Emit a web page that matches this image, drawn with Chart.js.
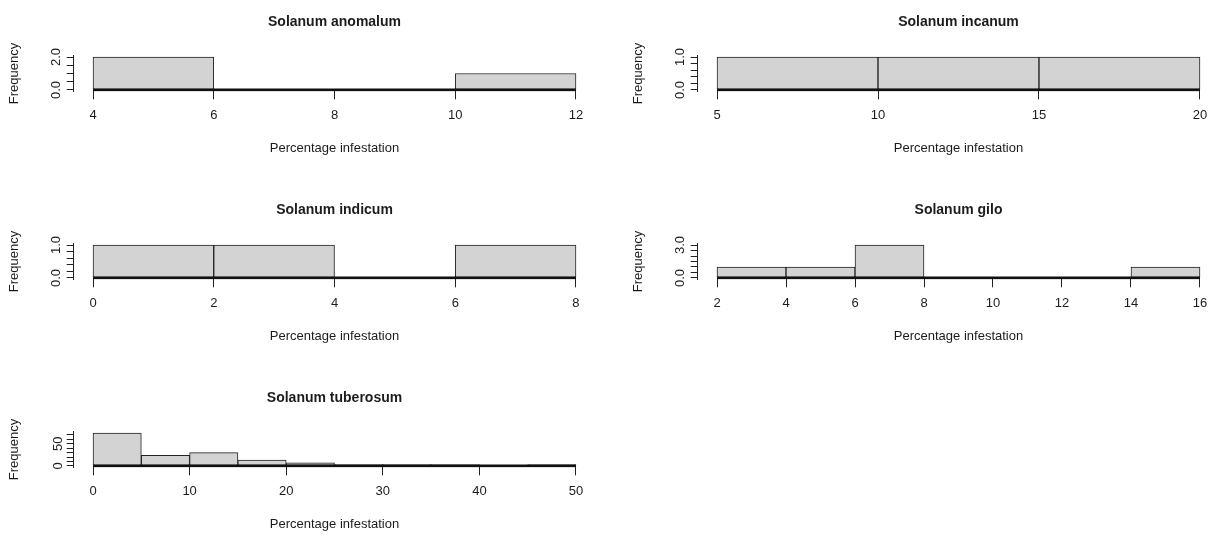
<!DOCTYPE html>
<html>
<head>
<meta charset="utf-8">
<script src="https://cdn.jsdelivr.net/npm/chart.js@4.4.0/dist/chart.umd.min.js"></script>
<style>
html,body{margin:0;padding:0;background:#fff;overflow:hidden;width:1211px;height:536px;}
.panel{position:absolute;width:600px;height:170px;}
</style>
</head>
<body>
<div class="panel" style="left:0px;top:0px"><canvas id="c0" width="600" height="170"></canvas></div>
<div class="panel" style="left:624px;top:0px"><canvas id="c1" width="600" height="170"></canvas></div>
<div class="panel" style="left:0px;top:188px"><canvas id="c2" width="600" height="170"></canvas></div>
<div class="panel" style="left:624px;top:188px"><canvas id="c3" width="600" height="170"></canvas></div>
<div class="panel" style="left:0px;top:376px"><canvas id="c4" width="600" height="170"></canvas></div>
<script>
// ---- data ----
const xAxisTitle = 'Percentage infestation';
const yAxisTitle = 'Frequency';

const anomalumTitle = 'Solanum anomalum';
const anomalumEdges = [4, 6, 8, 10, 12];
const anomalumCounts = [2, 0, 0, 1];
const anomalumXTicks = [4, 6, 8, 10, 12];
const anomalumYTicks = [0, 0.5, 1, 1.5, 2];
const anomalumYLabels = ['0.0', '', '', '', '2.0'];

const incanumTitle = 'Solanum incanum';
const incanumEdges = [5, 10, 15, 20];
const incanumCounts = [1, 1, 1];
const incanumXTicks = [5, 10, 15, 20];
const incanumYTicks = [0, 0.2, 0.4, 0.6, 0.8, 1];
const incanumYLabels = ['0.0', '', '', '', '', '1.0'];

const indicumTitle = 'Solanum indicum';
const indicumEdges = [0, 2, 4, 6, 8];
const indicumCounts = [1, 1, 0, 1];
const indicumXTicks = [0, 2, 4, 6, 8];
const indicumYTicks = [0, 0.2, 0.4, 0.6, 0.8, 1];
const indicumYLabels = ['0.0', '', '', '', '', '1.0'];

const giloTitle = 'Solanum gilo';
const giloEdges = [2, 4, 6, 8, 10, 12, 14, 16];
const giloCounts = [1, 1, 3, 0, 0, 0, 1];
const giloXTicks = [2, 4, 6, 8, 10, 12, 14, 16];
const giloYTicks = [0, 0.5, 1, 1.5, 2, 2.5, 3];
const giloYLabels = ['0.0', '', '', '', '', '', '3.0'];

const tuberosumTitle = 'Solanum tuberosum';
const tuberosumEdges = [0, 5, 10, 15, 20, 25, 30, 35, 40, 45, 50];
const tuberosumCounts = [74, 24, 30, 13, 7, 3, 3, 3, 0, 3];
const tuberosumXTicks = [0, 10, 20, 30, 40, 50];
const tuberosumYTicks = [0, 10, 20, 30, 40, 50, 60, 70];
const tuberosumYLabels = ['0', '', '', '', '', '50', '', ''];

// ---- drawing ----
const FONT = "'Liberation Sans', Arial, Helvetica, sans-serif";
const INK = '#1c1c1c';

function makePanel(id, title, edges, counts, xTicks, yTicks, yLabels) {
  const n = edges.length - 1;
  const x0 = edges[0], xN = edges[n];
  const xr = xN - x0;
  const ymax = Math.max(...counts);
  const bars = counts.map((c, i) => ({ x: (edges[i] + edges[i + 1]) / 2, y: c }));
  new Chart(document.getElementById(id), {
    type: 'bar',
    data: {
      datasets: [
        { type: 'line', data: [{ x: x0, y: 0 }, { x: xN, y: 0 }], borderColor: '#111', borderWidth: 2.8,
          pointRadius: 0, order: 0 },
        { type: 'bar', data: bars, backgroundColor: '#d3d3d3', borderColor: '#222', borderWidth: 1,
          borderSkipped: false, barPercentage: 1, categoryPercentage: 1, order: 1 }
      ]
    },
    options: {
      responsive: false, animation: false,
      layout: { padding: { left: 7, right: 4.7, top: 0, bottom: 0 } },
      plugins: {
        legend: { display: false }, tooltip: { enabled: false },
        title: { display: true, text: title, fullSize: false, color: INK,
          font: { family: FONT, size: 14, weight: 'bold' }, padding: { top: 13.6, bottom: 25.3 } }
      },
      scales: {
        x: {
          type: 'linear', offset: false, min: x0 - 0.04 * xr, max: xN + 0.04 * xr,
          afterBuildTicks: s => { s.ticks = xTicks.map(v => ({ value: v })); },
          afterFit: s => { s.height = 78.7; },
          border: { display: false },
          grid: { offset: false, drawOnChartArea: false, drawTicks: true, tickLength: 8, color: '#222' },
          ticks: { autoSkip: false, maxRotation: 0, minRotation: 0, padding: 7.9, color: INK,
            font: { family: FONT, size: 13 }, callback: v => String(v) },
          title: { display: true, text: xAxisTitle, color: INK, font: { family: FONT, size: 13 },
            padding: { top: 0, bottom: 14.2 } }
        },
        y: {
          type: 'linear', min: -0.04 * ymax, max: 1.04 * ymax,
          afterBuildTicks: s => { s.ticks = yTicks.map(v => ({ value: v })); },
          afterFit: s => { s.width = 66.7; },
          border: { display: true, color: '#222', width: 1 },
          grid: { drawOnChartArea: false, drawTicks: true, tickLength: 7, color: '#222' },
          ticks: { autoSkip: false, minRotation: 90, maxRotation: 90, crossAlign: 'center', padding: 1,
            color: INK, font: { family: FONT, size: 13 }, callback: (v, i) => yLabels[i] },
          title: { display: true, text: yAxisTitle, color: INK, font: { family: FONT, size: 13 },
            padding: { top: 0, bottom: 0 } }
        }
      }
    }
  });
}

makePanel('c0', anomalumTitle, anomalumEdges, anomalumCounts, anomalumXTicks, anomalumYTicks, anomalumYLabels);
makePanel('c1', incanumTitle, incanumEdges, incanumCounts, incanumXTicks, incanumYTicks, incanumYLabels);
makePanel('c2', indicumTitle, indicumEdges, indicumCounts, indicumXTicks, indicumYTicks, indicumYLabels);
makePanel('c3', giloTitle, giloEdges, giloCounts, giloXTicks, giloYTicks, giloYLabels);
makePanel('c4', tuberosumTitle, tuberosumEdges, tuberosumCounts, tuberosumXTicks, tuberosumYTicks, tuberosumYLabels);
</script>
</body>
</html>
